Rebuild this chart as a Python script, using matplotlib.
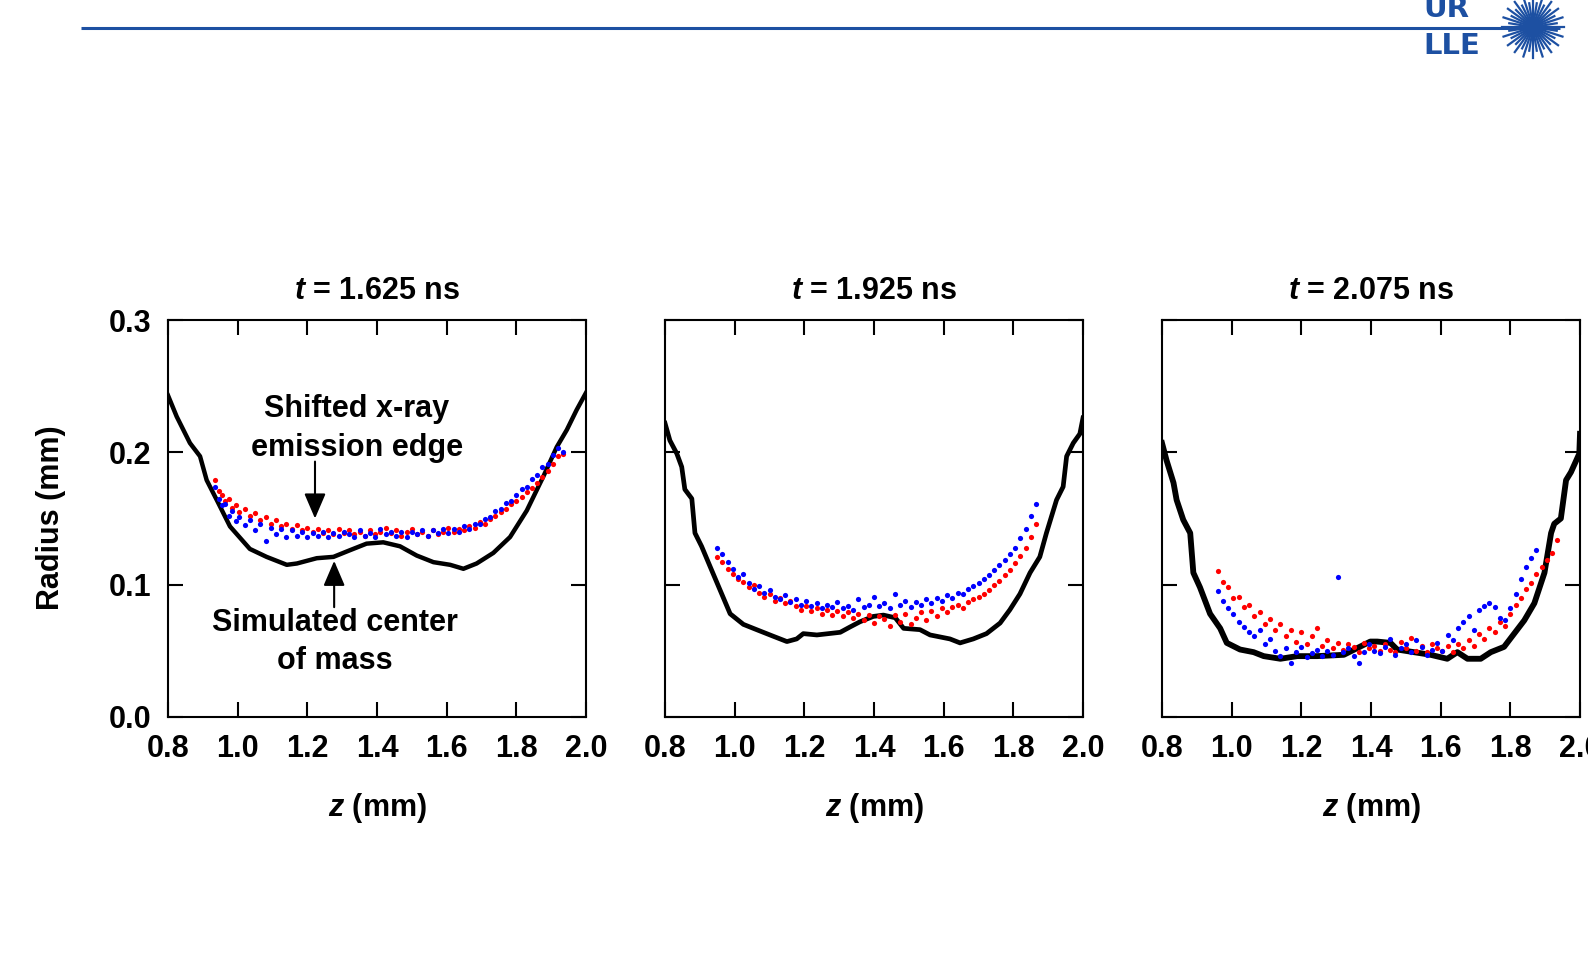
import matplotlib.pyplot as plt
import numpy as np

plt.rcParams['font.family'] = ['Liberation Sans', 'DejaVu Sans']
plt.rcParams['font.weight'] = 'bold'
plt.rcParams['mathtext.fontset'] = 'custom'
plt.rcParams['mathtext.it'] = 'Liberation Sans:italic:bold'
plt.rcParams['mathtext.rm'] = 'Liberation Sans:bold'

# panel titles
times = ['1.625', '1.925', '2.075']

# simulated center of mass (black curves)
sim_z1 = [0.80, 0.825, 0.863, 0.892, 0.911, 0.94, 0.978, 1.035, 1.083, 1.141, 1.17, 1.227, 1.275,
          1.322, 1.37, 1.418, 1.466, 1.514, 1.562, 1.61, 1.648, 1.686, 1.734, 1.782, 1.83, 1.878,
          1.916, 1.945, 1.973, 2.0]
sim_r1 = [0.243, 0.227, 0.207, 0.197, 0.179, 0.164, 0.144, 0.127, 0.121, 0.115, 0.116, 0.120, 0.121,
          0.126, 0.131, 0.132, 0.129, 0.122, 0.117, 0.115, 0.112, 0.116, 0.124, 0.136, 0.156, 0.182,
          0.204, 0.217, 0.232, 0.245]

sim_z2 = [0.80, 0.814, 0.834, 0.848, 0.857, 0.877, 0.886, 0.905, 0.929, 0.958, 0.987, 1.025, 1.063,
          1.111, 1.15, 1.178, 1.197, 1.236, 1.303, 1.331, 1.36, 1.398, 1.427, 1.461, 1.485, 1.532,
          1.561, 1.618, 1.647, 1.685, 1.723, 1.762, 1.79, 1.819, 1.848, 1.876, 1.895, 1.924, 1.943,
          1.953, 1.972, 1.991, 2.0]
sim_r2 = [0.222, 0.209, 0.199, 0.189, 0.172, 0.165, 0.139, 0.129, 0.114, 0.096, 0.078, 0.070, 0.066,
          0.061, 0.057, 0.059, 0.063, 0.062, 0.064, 0.068, 0.072, 0.076, 0.077, 0.075, 0.067, 0.066,
          0.062, 0.059, 0.056, 0.059, 0.063, 0.071, 0.081, 0.093, 0.109, 0.121, 0.139, 0.164, 0.174,
          0.197, 0.207, 0.214, 0.226]

sim_z3 = [0.80, 0.813, 0.833, 0.842, 0.861, 0.881, 0.89, 0.909, 0.938, 0.967, 0.986, 1.024, 1.063,
          1.092, 1.14, 1.188, 1.245, 1.322, 1.36, 1.398, 1.418, 1.456, 1.475, 1.523, 1.571, 1.619,
          1.648, 1.677, 1.715, 1.744, 1.782, 1.811, 1.84, 1.869, 1.898, 1.917, 1.926, 1.945, 1.96,
          1.974, 1.998, 2.0]
sim_r3 = [0.207, 0.194, 0.177, 0.164, 0.149, 0.139, 0.109, 0.098, 0.078, 0.067, 0.056, 0.051, 0.049,
          0.046, 0.044, 0.046, 0.046, 0.047, 0.052, 0.057, 0.057, 0.056, 0.051, 0.049, 0.047, 0.044,
          0.049, 0.044, 0.044, 0.049, 0.053, 0.063, 0.073, 0.086, 0.109, 0.139, 0.146, 0.150, 0.179,
          0.185, 0.199, 0.214]

# shifted x-ray emission edge (red and blue points)
pt_z1 = [0.935, 0.945, 0.955, 0.965, 0.975, 0.985, 0.995, 1.005, 1.02, 1.035, 1.05, 1.065, 1.08, 1.095,
         1.11, 1.125, 1.14, 1.155, 1.17, 1.185, 1.2, 1.215, 1.23, 1.245, 1.26, 1.275, 1.29, 1.305,
         1.32, 1.335, 1.35, 1.365, 1.38, 1.395, 1.41, 1.425, 1.44, 1.455, 1.47, 1.485, 1.5, 1.515,
         1.53, 1.545, 1.56, 1.575, 1.59, 1.605, 1.62, 1.635, 1.65, 1.665, 1.68, 1.695, 1.71, 1.725,
         1.74, 1.755, 1.77, 1.785, 1.8, 1.815, 1.83, 1.845, 1.86, 1.875, 1.89, 1.905, 1.92, 1.935]
red_r1 = [0.179, 0.171, 0.168, 0.163, 0.165, 0.158, 0.160, 0.155, 0.157, 0.152, 0.154, 0.149, 0.151, 0.146,
          0.149, 0.144, 0.146, 0.142, 0.145, 0.141, 0.143, 0.140, 0.142, 0.139, 0.141, 0.138, 0.142, 0.139,
          0.141, 0.138, 0.140, 0.137, 0.141, 0.138, 0.140, 0.143, 0.139, 0.141, 0.137, 0.140, 0.142, 0.138,
          0.140, 0.137, 0.141, 0.138, 0.140, 0.143, 0.140, 0.142, 0.141, 0.144, 0.143, 0.147, 0.146, 0.150,
          0.152, 0.155, 0.157, 0.161, 0.163, 0.166, 0.170, 0.173, 0.177, 0.181, 0.186, 0.191, 0.197, 0.199]
blue_r1 = [0.174, 0.165, 0.160, 0.161, 0.152, 0.156, 0.148, 0.151, 0.145, 0.149, 0.141, 0.146, 0.133, 0.143,
           0.138, 0.142, 0.136, 0.141, 0.137, 0.140, 0.136, 0.139, 0.137, 0.140, 0.136, 0.139, 0.137, 0.140,
           0.138, 0.136, 0.141, 0.137, 0.139, 0.136, 0.142, 0.138, 0.140, 0.137, 0.140, 0.136, 0.140, 0.138,
           0.141, 0.137, 0.141, 0.139, 0.142, 0.139, 0.142, 0.140, 0.144, 0.142, 0.146, 0.146, 0.150, 0.151,
           0.156, 0.157, 0.162, 0.163, 0.168, 0.172, 0.174, 0.180, 0.183, 0.189, 0.191, 0.198, 0.203, 0.200]

pt_z2 = [0.95, 0.965, 0.98, 0.995, 1.01, 1.025, 1.04, 1.055, 1.07, 1.085, 1.1, 1.115, 1.13, 1.145, 1.16,
         1.175, 1.19, 1.205, 1.22, 1.235, 1.25, 1.265, 1.28, 1.295, 1.31, 1.325, 1.34, 1.355, 1.37, 1.385,
         1.4, 1.415, 1.43, 1.445, 1.46, 1.475, 1.49, 1.505, 1.52, 1.535, 1.55, 1.565, 1.58, 1.595, 1.61,
         1.625, 1.64, 1.655, 1.67, 1.685, 1.7, 1.715, 1.73, 1.745, 1.76, 1.775, 1.79, 1.805, 1.82, 1.835,
         1.85, 1.865]
red_r2 = [0.121, 0.117, 0.112, 0.108, 0.104, 0.102, 0.098, 0.100, 0.094, 0.091, 0.093, 0.088, 0.090, 0.086,
          0.088, 0.084, 0.081, 0.084, 0.080, 0.082, 0.078, 0.081, 0.077, 0.080, 0.076, 0.079, 0.075, 0.078,
          0.073, 0.077, 0.071, 0.076, 0.074, 0.069, 0.077, 0.072, 0.078, 0.070, 0.075, 0.079, 0.073, 0.080,
          0.076, 0.082, 0.079, 0.083, 0.085, 0.082, 0.087, 0.089, 0.091, 0.093, 0.096, 0.100, 0.103, 0.107,
          0.111, 0.116, 0.122, 0.128, 0.136, 0.146]
blue_r2 = [0.128, 0.123, 0.117, 0.112, 0.106, 0.108, 0.101, 0.097, 0.099, 0.094, 0.096, 0.091, 0.089, 0.092,
           0.087, 0.089, 0.085, 0.088, 0.084, 0.086, 0.082, 0.085, 0.083, 0.087, 0.082, 0.084, 0.081, 0.089,
           0.083, 0.085, 0.091, 0.084, 0.086, 0.082, 0.093, 0.085, 0.088, 0.083, 0.087, 0.085, 0.089, 0.086,
           0.090, 0.088, 0.092, 0.090, 0.094, 0.093, 0.097, 0.099, 0.101, 0.104, 0.107, 0.111, 0.115, 0.119,
           0.123, 0.128, 0.135, 0.142, 0.152, 0.161]

pt_z3 = [0.96, 0.975, 0.99, 1.005, 1.02, 1.035, 1.05, 1.065, 1.08, 1.095, 1.11, 1.125, 1.14, 1.155, 1.17,
         1.185, 1.2, 1.215, 1.23, 1.245, 1.26, 1.275, 1.29, 1.305, 1.32, 1.335, 1.35, 1.365, 1.38, 1.395,
         1.41, 1.425, 1.44, 1.455, 1.47, 1.485, 1.5, 1.515, 1.53, 1.545, 1.56, 1.575, 1.59, 1.605, 1.62,
         1.635, 1.65, 1.665, 1.68, 1.695, 1.71, 1.725, 1.74, 1.755, 1.77, 1.785, 1.8, 1.815, 1.83, 1.845,
         1.86, 1.875, 1.89, 1.905, 1.92, 1.935]
red_r3 = [0.110, 0.102, 0.098, 0.090, 0.091, 0.083, 0.085, 0.076, 0.079, 0.070, 0.074, 0.066, 0.070, 0.061,
          0.066, 0.057, 0.064, 0.055, 0.061, 0.067, 0.054, 0.058, 0.052, 0.056, 0.051, 0.055, 0.053, 0.049,
          0.056, 0.052, 0.054, 0.050, 0.055, 0.051, 0.049, 0.057, 0.052, 0.060, 0.050, 0.054, 0.049, 0.055,
          0.052, 0.050, 0.054, 0.049, 0.055, 0.052, 0.058, 0.054, 0.063, 0.059, 0.067, 0.064, 0.072, 0.069,
          0.078, 0.085, 0.090, 0.097, 0.101, 0.108, 0.113, 0.119, 0.124, 0.134]
blue_r3 = [0.095, 0.088, 0.082, 0.078, 0.072, 0.068, 0.064, 0.061, 0.066, 0.055, 0.059, 0.050, 0.046, 0.052,
           0.041, 0.049, 0.053, 0.045, 0.048, 0.051, 0.046, 0.050, 0.047, 0.106, 0.049, 0.052, 0.046, 0.041,
           0.049, 0.055, 0.050, 0.048, 0.053, 0.059, 0.047, 0.052, 0.055, 0.049, 0.058, 0.053, 0.047, 0.051,
           0.056, 0.050, 0.062, 0.058, 0.067, 0.072, 0.076, 0.066, 0.081, 0.084, 0.086, 0.083, 0.075, 0.073,
           0.082, 0.093, 0.104, 0.113, 0.120, 0.126, np.nan, np.nan, np.nan, np.nan]

sims = [(sim_z1, sim_r1), (sim_z2, sim_r2), (sim_z3, sim_r3)]
pts = [(pt_z1, red_r1, blue_r1), (pt_z2, red_r2, blue_r2), (pt_z3, red_r3, blue_r3)]
sim_lw = [3.2, 3.4, 4.2]

fig = plt.figure(figsize=(15.88, 9.58), dpi=100)
W, H = 1588, 958
FS = 22

lefts = [168, 665, 1162]
axes = []
for i in range(3):
    ax = fig.add_axes([lefts[i] / W, 1 - 717 / H, 418 / W, 397 / H])
    z, r = sims[i]
    ax.plot(z, r, color='black', lw=sim_lw[i], zorder=2)
    zp, rr, rb = pts[i]
    ax.scatter(zp, rr, s=14, color='#ff0000', linewidths=0, zorder=3)
    ax.scatter(zp, rb, s=14, color='#0000ff', linewidths=0, zorder=3)
    ax.set_xlim(0.8, 2.0)
    ax.set_ylim(0.0, 0.3)
    ax.set_xticks([0.8, 1.0, 1.2, 1.4, 1.6, 1.8, 2.0])
    ax.set_yticks([0.0, 0.1, 0.2, 0.3])
    ax.xaxis.set_major_formatter(plt.FormatStrFormatter('%.1f'))
    ax.yaxis.set_major_formatter(plt.FormatStrFormatter('%.1f'))
    ax.tick_params(direction='in', length=11, width=1.5, top=True, right=True,
                   labelsize=FS, pad=12)
    if i > 0:
        ax.tick_params(labelleft=False)
    for s in ax.spines.values():
        s.set_linewidth(1.5)
    ax.text(0.5, 1.072, r'$t$ = ' + times[i] + ' ns', transform=ax.transAxes,
            ha='center', va='center', fontsize=FS, fontweight='bold')
    ax.text(0.5, -0.229, r'$z$ (mm)', transform=ax.transAxes,
            ha='center', va='center', fontsize=FS, fontweight='bold')
    axes.append(ax)

ax1 = axes[0]
fig.text(51 / W, 1 - 518 / H, 'Radius (mm)', rotation=90, ha='center', va='center',
         fontsize=FS, fontweight='bold')

# annotations
ax1.text(1.342, 0.218, 'Shifted x-ray\nemission edge', ha='center', va='center',
         fontsize=FS, fontweight='bold', linespacing=1.35)
ax1.annotate('', xy=(1.222, 0.150), xytext=(1.222, 0.193),
             arrowprops=dict(arrowstyle='-|>,head_length=0.7,head_width=0.3', color='black',
                             lw=1.5, mutation_scale=22, shrinkA=0, shrinkB=0))
ax1.text(1.279, 0.057, 'Simulated center\nof mass', ha='center', va='center',
         fontsize=FS, fontweight='bold', linespacing=1.35)
ax1.annotate('', xy=(1.277, 0.118), xytext=(1.277, 0.083),
             arrowprops=dict(arrowstyle='-|>,head_length=0.7,head_width=0.3', color='black',
                             lw=1.5, mutation_scale=22, shrinkA=0, shrinkB=0))

# header line and logo
blue = '#1d50a2'
ov = fig.add_axes([0, 0, 1, 1], zorder=-1)
ov.set_xlim(0, W)
ov.set_ylim(H, 0)
ov.axis('off')
ov.plot([81, 1560], [28, 28], color=blue, lw=2.2, solid_capstyle='butt')
ov.text(1423, 9, 'UR', color=blue, fontsize=21, fontweight='bold', ha='left', va='center',
        family='DejaVu Sans')
ov.text(1423, 46, 'LLE', color=blue, fontsize=21, fontweight='bold', ha='left', va='center',
        family='DejaVu Sans')
cx, cy = 1533, 27
for k in range(40):
    a = k * np.pi / 20
    rad = 31 if k % 2 == 0 else 24
    ov.plot([cx, cx + rad * np.cos(a)], [cy, cy + rad * np.sin(a)], color=blue, lw=1.6)
ov.add_patch(plt.Circle((cx, cy), 8, color=blue))

fig.savefig('out.png', dpi=100)
